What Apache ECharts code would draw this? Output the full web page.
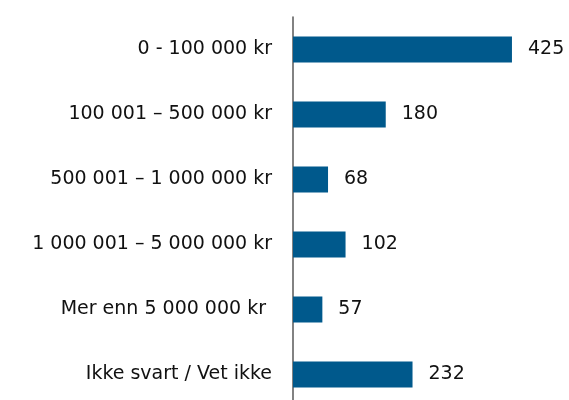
<!DOCTYPE html>
<html>
<head>
<meta charset="utf-8">
<script src="https://cdn.jsdelivr.net/npm/echarts@6/dist/echarts.min.js"></script>
<style>
  html, body { margin: 0; padding: 0; background: #fff; }
  #chart-wrapper { width: 569px; height: 400px; }
</style>
</head>
<body>
<div id="chart-wrapper"></div>
<script>
const categories = [
  "0 - 100 000 kr",
  "100 001 \u2013 500 000 kr",
  "500 001 \u2013 1 000 000 kr",
  "1 000 001 \u2013 5 000 000 kr",
  "Mer enn 5 000 000 kr ",
  "Ikke svart / Vet ikke"
];
const values = [425, 180, 68, 102, 57, 232];

const FONT = "'DejaVu Sans', sans-serif";

const chartDom = document.getElementById("chart-wrapper");
const chart = echarts.init(chartDom);

const option = {
  animation: false,
  backgroundColor: "#fff",
  grid: {
    left: 293,
    top: 17,
    width: 257.6,
    height: 390,
    containLabel: false,
    outerBoundsMode: "none"
  },
  xAxis: {
    type: "value",
    min: 0,
    max: 500,
    show: false
  },
  yAxis: {
    type: "category",
    inverse: true,
    data: categories,
    axisLine: { show: true, lineStyle: { color: "#595959", width: 1.5 } },
    axisTick: { show: false },
    axisLabel: {
      margin: 21,
      fontSize: 19,
      fontFamily: FONT,
      color: "#111"
    }
  },
  series: [{
    type: "bar",
    data: values,
    barWidth: "40%",
    itemStyle: { color: "#00598C" },
    label: {
      show: true,
      position: "right",
      distance: 16,
      fontSize: 19,
      fontFamily: FONT,
      color: "#111"
    }
  }]
};
chart.setOption(option);
</script>
</body>
</html>
